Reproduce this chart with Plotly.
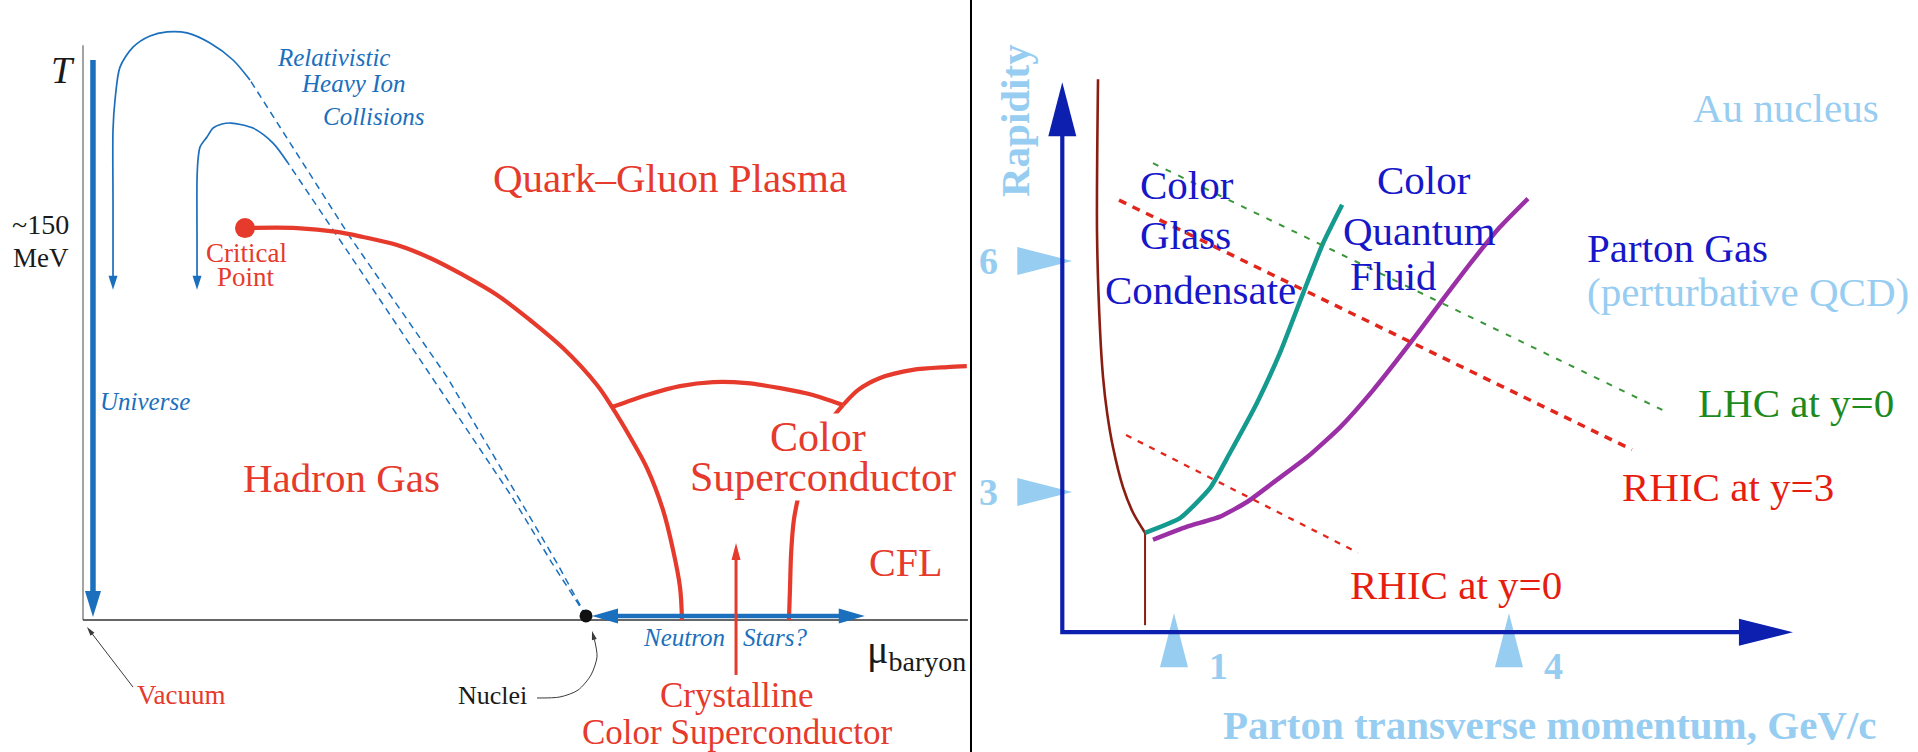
import math
import plotly.graph_objects as go

W, H = 1918, 752
SERIF = "Liberation Serif, Times New Roman, serif"

# ------------------------------------------------------------------
# Left panel: QCD phase diagram  (baryon chemical potential / temperature, MeV)
# ------------------------------------------------------------------
boundary_mu = [297.0, 392.3, 465.6, 513.2, 575.6, 636.1, 696.5, 758.9, 819.4, 879.8, 942.2, 969.7,
               1002.7, 1033.8, 1063.1, 1081.5, 1094.3, 1097.9]
boundary_T = [154.8, 154.8, 153.3, 151.3, 148.1, 143.0, 136.3, 128.4, 118.5, 107.4, 92.8, 84.1,
              72.3, 60.0, 43.5, 27.7, 13.0, 0]

csc_arc_mu = [969.7, 1033.8, 1094.3, 1155, 1217, 1278, 1338, 1393]
csc_arc_T = [84.1, 88.9, 92.4, 94.0, 93.6, 91.6, 88.9, 84.9]

cfl_upper_mu = [1393, 1421, 1461, 1521, 1584, 1620]
cfl_upper_T = [84.9, 90.9, 95.6, 98.8, 99.9, 100.3]

cfl_lower_mu = [1393, 1375, 1355, 1336, 1322, 1311, 1303, 1298, 1296, 1294]
cfl_lower_T = [84.9, 80.2, 73.1, 66.4, 58.5, 48.6, 39.5, 26.5, 13.0, 0]

critical_mu, critical_T = [297], [154.8]
nuclei_mu, nuclei_T = [922], [1.6]

# heavy-ion trajectories: solid part (turning point -> arrow tip), dashed part (nuclei -> turning point)
hic_outer_mu = [306.1, 275.0, 232.8, 190.6, 154.0, 122.8, 91.7, 67.8, 58.7, 55.0, 55.0, 55.0]
hic_outer_T = [213.3, 221.2, 227.9, 231.9, 232.3, 230.7, 226.3, 218.4, 205.4, 193.6, 165.9, 130.4]
hic_inner_mu = [375.8, 348.3, 311.6, 271.3, 254.8, 238.3, 227.3, 214.5, 210.8, 209.0, 209.0, 209.0]
hic_inner_T = [180.5, 188.4, 194.3, 196.3, 195.9, 194.3, 190.8, 186.8, 181.7, 173.8, 150.1, 130.4]
hic_outer_dash_mu = [922.0, 868.8, 797.4, 667.2, 489.4, 306.1]
hic_outer_dash_T = [1.6, 22.5, 48.6, 96.0, 151.3, 213.3]
hic_inner_dash_mu = [922.0, 859.7, 786.4, 639.7, 507.7, 375.8]
hic_inner_dash_T = [1.6, 22.5, 48.6, 96.0, 138.3, 180.5]

universe_mu, universe_T = [18.3, 18.3], [221.2, 1.2]
neutron_star_mu, neutron_star_T = [933, 1433], [1.6, 1.6]
crystalline_mu, crystalline_T = [1197, 1197], [-21.7, 30.4]
vacuum_ptr_mu, vacuum_ptr_T = [91.7, 7.3], [-26.5, -2.8]
nuclei_ptr_mu = [832.2, 874.3, 907.3, 931.2, 942.2, 938.5, 933.0]
nuclei_ptr_T = [-30.8, -30.4, -27.7, -21.7, -14.6, -8.7, -4.3]

T_axis_top = 227.0
mu_axis_end = 1622.0

# ------------------------------------------------------------------
# Right panel: parton transverse momentum (GeV/c) vs rapidity
# ------------------------------------------------------------------
rapidity_ticks = [3, 6]
pt_ticks = [1, 4]
axis_y0 = 1.18
pt_axis_end = 6.543
rap_axis_end = 8.32

hadron_pt = [0.320, 0.311, 0.338, 0.365, 0.401, 0.454, 0.544, 0.634, 0.741]
hadron_y = [8.36, 6.36, 5.10, 4.49, 4.03, 3.58, 3.06, 2.73, 2.47]
hadron_drop_pt, hadron_drop_y = [0.741, 0.741], [2.47, 1.27]

cgc_pt = [0.741, 1.054, 1.323, 1.502, 1.744, 1.950, 2.156, 2.335, 2.506]
cgc_y = [2.47, 2.66, 3.05, 3.51, 4.16, 4.81, 5.58, 6.23, 6.73]

cqf_pt = [0.812, 1.117, 1.413, 1.654, 1.887, 2.191, 2.487, 2.782, 3.087, 3.382, 3.677, 3.919, 4.170]
cqf_y = [2.38, 2.55, 2.68, 2.87, 3.12, 3.45, 3.84, 4.32, 4.88, 5.45, 6.01, 6.44, 6.81]

lhc_y0_pt, lhc_y0_y = [0.812, 5.424], [7.27, 4.03]
rhic_y3_pt, rhic_y3_y = [0.508, 5.101], [6.79, 3.55]
rhic_y0_pt, rhic_y0_y = [0.571, 2.649], [3.74, 2.21]

# ------------------------------------------------------------------
# colours
# ------------------------------------------------------------------
RED = "#e53a2c"
BLUE = "#1b6fbc"
NAVY = "#0c1fae"
NAVY_TXT = "#1717c9"
LIGHT = "#97cdf1"
BROWN = "#8a1d12"
TEAL = "#149a8e"
PURPLE = "#9a2fa6"
GREEN_LINE = "#3a963a"
GREEN_TXT = "#1d8a1d"
RED_TXT = "#e61d0f"
RED_DASH = "#e3261c"


class Panel:
    """Linear map between data units and canvas pixels for one panel."""

    def __init__(self, xa, ya, x_px0, y_px0, x_per_px, y_per_px, left_px, right_px):
        self.xa, self.ya = xa, ya
        self.x_px0, self.y_px0 = x_px0, y_px0
        self.x_per_px, self.y_per_px = x_per_px, y_per_px
        self.left_px, self.right_px = left_px, right_px

    def px(self, x, y):
        return self.x_px0 + x / self.x_per_px, self.y_px0 - y / self.y_per_px

    def data(self, px, py):
        return (px - self.x_px0) * self.x_per_px, (self.y_px0 - py) * self.y_per_px

    def xrange(self):
        return [self.data(self.left_px, 0)[0], self.data(self.right_px, 0)[0]]

    def yrange(self):
        return [self.data(0, H)[1], self.data(0, 0)[1]]


LEFT = Panel("x", "y", 83, 620, 1.833, 0.395, 0, 970)
RIGHT = Panel("x2", "y2", 1062.3, 723, 1 / 111.67, 1 / 77.0, 972, W)

fig = go.Figure()


def line(panel, xs, ys, color, width, dash=None, spline=False, smoothing=0.8):
    fig.add_trace(go.Scatter(
        x=list(xs), y=list(ys), mode="lines", xaxis=panel.xa, yaxis=panel.ya,
        line=dict(color=color, width=width, dash=dash,
                  shape="spline" if spline else "linear", smoothing=smoothing),
        hoverinfo="skip", showlegend=False, cliponaxis=False))


def head(panel, tip, prev, length, width, color):
    tx, ty = panel.px(*tip)
    bx, by = panel.px(*prev)
    n = math.hypot(tx - bx, ty - by)
    ux, uy = (tx - bx) / n, (ty - by) / n
    cx, cy = tx - ux * length, ty - uy * length
    nx, ny = -uy, ux
    pts = [(tx, ty), (cx + nx * width / 2, cy + ny * width / 2),
           (cx - nx * width / 2, cy - ny * width / 2), (tx, ty)]
    d = [panel.data(*p) for p in pts]
    fig.add_trace(go.Scatter(
        x=[p[0] for p in d], y=[p[1] for p in d], mode="lines", fill="toself",
        fillcolor=color, line=dict(width=0, color=color), xaxis=panel.xa, yaxis=panel.ya,
        hoverinfo="skip", showlegend=False, cliponaxis=False))
    # point where the shaft should stop, slightly inside the head
    sx, sy = tx - ux * length * 0.6, ty - uy * length * 0.6
    return panel.data(sx, sy)


def arrow(panel, xs, ys, color, width, hl, hw, both=False, spline=False, dash=None):
    xs, ys = list(xs), list(ys)
    end = head(panel, (xs[-1], ys[-1]), (xs[-2], ys[-2]), hl, hw, color)
    xs[-1], ys[-1] = end
    if both:
        start = head(panel, (xs[0], ys[0]), (xs[1], ys[1]), hl, hw, color)
        xs[0], ys[0] = start
    line(panel, xs, ys, color, width, dash=dash, spline=spline)


def text(s, px, py, size, color, anchor="left", italic=False, bold=False, angle=0, bg=None):
    if italic:
        s = f"<i>{s}</i>"
    if bold:
        s = f"<b>{s}</b>"
    fig.add_annotation(x=px / W, y=1 - py / H, xref="paper", yref="paper", text=s,
                       showarrow=False, xanchor=anchor, yanchor="middle", textangle=angle,
                       bgcolor=bg, font=dict(family=SERIF, size=size, color=color), borderpad=0)


# ---------------- left panel drawing ----------------
line(LEFT, [0, 0], [0, T_axis_top], "#8c8c8c", 1.6)
line(LEFT, [0, mu_axis_end], [0, 0], "#333333", 1.6)

line(LEFT, hic_outer_dash_mu, hic_outer_dash_T, BLUE, 1.5, dash="7px,5px")
line(LEFT, hic_inner_dash_mu, hic_inner_dash_T, BLUE, 1.5, dash="7px,5px")
arrow(LEFT, hic_outer_mu, hic_outer_T, BLUE, 1.7, 14, 9, spline=True)
arrow(LEFT, hic_inner_mu, hic_inner_T, BLUE, 1.7, 14, 9, spline=True)

arrow(LEFT, universe_mu, universe_T, BLUE, 5.5, 26, 16)

line(LEFT, boundary_mu, boundary_T, RED, 4.2, spline=True, smoothing=1.0)
line(LEFT, csc_arc_mu, csc_arc_T, RED, 4.2, spline=True, smoothing=0.8)
line(LEFT, cfl_upper_mu, cfl_upper_T, RED, 4.2, spline=True, smoothing=0.8)
line(LEFT, cfl_lower_mu, cfl_lower_T, RED, 4.2, spline=True, smoothing=0.8)

arrow(LEFT, neutron_star_mu, neutron_star_T, BLUE, 4.5, 26, 15, both=True)
arrow(LEFT, crystalline_mu, crystalline_T, RED, 3, 17, 9)

arrow(LEFT, vacuum_ptr_mu, vacuum_ptr_T, "#3a3a3a", 1, 9, 5)
arrow(LEFT, nuclei_ptr_mu, nuclei_ptr_T, "#3a3a3a", 1, 9, 5, spline=True)

fig.add_trace(go.Scatter(x=critical_mu, y=critical_T, mode="markers", xaxis="x", yaxis="y",
                         marker=dict(size=20, color=RED, line=dict(width=0)),
                         hoverinfo="skip", showlegend=False, cliponaxis=False))
fig.add_trace(go.Scatter(x=nuclei_mu, y=nuclei_T, mode="markers", xaxis="x", yaxis="y",
                         marker=dict(size=13, color="#111111", line=dict(width=0)),
                         hoverinfo="skip", showlegend=False, cliponaxis=False))

# ---------------- right panel drawing ----------------
for t in rapidity_ticks:
    tip = RIGHT.data(RIGHT.px(0, t)[0] + 10, RIGHT.px(0, t)[1])
    back = RIGHT.data(RIGHT.px(0, t)[0] - 60, RIGHT.px(0, t)[1])
    head(RIGHT, tip, back, 55, 28, LIGHT)
    fig.add_annotation(x=0, y=t, xref="x2", yref="y2", text=f"<b>{t}</b>", showarrow=False,
                       xshift=-74, xanchor="center", yanchor="middle",
                       font=dict(family=SERIF, size=38, color=LIGHT))
for t in pt_ticks:
    tip = RIGHT.data(RIGHT.px(t, axis_y0)[0], RIGHT.px(t, axis_y0)[1] - 19)
    back = RIGHT.data(RIGHT.px(t, axis_y0)[0], RIGHT.px(t, axis_y0)[1] + 60)
    head(RIGHT, tip, back, 54, 28, LIGHT)
    fig.add_annotation(x=t, y=axis_y0, xref="x2", yref="y2", text=f"<b>{t}</b>", showarrow=False,
                       xshift=45, yshift=-34, xanchor="center", yanchor="middle",
                       font=dict(family=SERIF, size=38, color=LIGHT))

line(RIGHT, hadron_pt, hadron_y, BROWN, 2.6, spline=True)
line(RIGHT, hadron_drop_pt, hadron_drop_y, BROWN, 2)
line(RIGHT, cgc_pt, cgc_y, TEAL, 4.5, spline=True, smoothing=0.5)
line(RIGHT, cqf_pt, cqf_y, PURPLE, 4.5, spline=True, smoothing=0.5)
line(RIGHT, lhc_y0_pt, lhc_y0_y, GREEN_LINE, 2, dash="6px,8px")
line(RIGHT, rhic_y3_pt, rhic_y3_y, RED_DASH, 3.5, dash="8px,7px")
line(RIGHT, rhic_y0_pt, rhic_y0_y, RED_DASH, 2.3, dash="6px,7px")

# L-shaped axes with arrow tips
ax_x = [0, 0, pt_axis_end]
ax_y = [rap_axis_end, axis_y0, axis_y0]
top_end = head(RIGHT, (ax_x[0], ax_y[0]), (ax_x[1], ax_y[1]), 54, 28, NAVY)
right_end = head(RIGHT, (ax_x[2], ax_y[2]), (ax_x[1], ax_y[1]), 54, 27, NAVY)
line(RIGHT, [top_end[0], 0, right_end[0]], [top_end[1], axis_y0, right_end[1]], NAVY, 4.2)

# divider between the two panels
fig.add_shape(type="line", xref="paper", yref="paper", x0=971 / W, x1=971 / W, y0=0, y1=1,
              line=dict(color="#000000", width=2))

# ---------------- labels, left ----------------
text("T", 50, 70, 38, "#1a1a1a", italic=True)
text("~150", 11, 224, 28, "#1a1a1a")
text("MeV", 12, 258, 27, "#1a1a1a")
text("Relativistic", 333, 57, 25, BLUE, anchor="center", italic=True)
text("Heavy Ion", 353, 84, 25, BLUE, anchor="center", italic=True)
text("Collisions", 373, 116, 25, BLUE, anchor="center", italic=True)
text("Quark\u2013Gluon Plasma", 670, 178, 41, RED, anchor="center")
text("Critical", 246, 253, 27, RED, anchor="center")
text("Point", 246, 277, 27, RED, anchor="center")
text("Universe", 99, 402, 25, BLUE, italic=True)
text("Hadron Gas", 341, 478, 41, RED, anchor="center")
text("Color", 818, 437, 42, RED, anchor="center", bg="white")
text("Superconductor", 823, 477, 42, RED, anchor="center", bg="white")
text("CFL", 905, 562, 40, RED, anchor="center")
text("Neutron", 642, 637, 25, BLUE, italic=True)
text("Stars?", 742, 637, 25, BLUE, italic=True)
text("Crystalline", 737, 695, 35, RED, anchor="center")
text("Color Superconductor", 737, 732, 35, RED, anchor="center")
text("Vacuum", 136, 695, 27, RED)
text("Nuclei", 457, 695, 26, "#1a1a1a")
text("\u03bc<sub>baryon</sub>", 866, 652, 40, "#1a1a1a")

# ---------------- labels, right ----------------
text("Rapidity", 1015, 120, 41, LIGHT, anchor="center", bold=True, angle=-90)
text("Au nucleus", 1692, 108, 41, LIGHT)
text("Color", 1139, 185, 41, NAVY_TXT)
text("Glass", 1139, 235, 41, NAVY_TXT)
text("Condensate", 1104, 290, 41, NAVY_TXT)
text("Color", 1376, 180, 41, NAVY_TXT)
text("Quantum", 1342, 231, 41, NAVY_TXT)
text("Fluid", 1349, 276, 41, NAVY_TXT)
text("Parton Gas", 1586, 248, 41, NAVY_TXT)
text("(perturbative QCD)", 1586, 292, 41, LIGHT)
text("LHC at y=0", 1697, 403, 41, GREEN_TXT)
text("RHIC at y=3", 1621, 487, 41, RED_TXT)
text("RHIC at y=0", 1349, 585, 41, RED_TXT)
text("Parton transverse momentum, GeV/c", 1550, 725, 41, LIGHT, anchor="center", bold=True)

fig.update_layout(
    width=W, height=H, margin=dict(l=0, r=0, t=0, b=0),
    paper_bgcolor="white", plot_bgcolor="white", showlegend=False,
    xaxis=dict(domain=[0, 970 / W], range=LEFT.xrange(), visible=False, fixedrange=True),
    yaxis=dict(domain=[0, 1], range=LEFT.yrange(), visible=False, fixedrange=True),
    xaxis2=dict(domain=[972 / W, 1], range=RIGHT.xrange(), visible=False, anchor="y2", fixedrange=True),
    yaxis2=dict(domain=[0, 1], range=RIGHT.yrange(), visible=False, anchor="x2", fixedrange=True),
)

fig.write_html("out.html")
